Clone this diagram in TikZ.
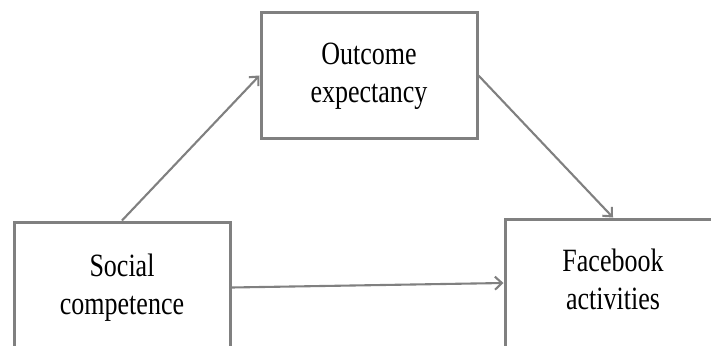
\documentclass[tikz,border=0pt]{standalone}
\usepackage{fontspec}
\setmainfont{Liberation Serif}
\usetikzlibrary{arrows.meta}
\definecolor{linegray}{HTML}{808080}
\newcommand{\tallt}[1]{\raisebox{-2.5pt}{\scalebox{1}[1.25]{\fontsize{26}{30.5}\selectfont\begin{tabular}{@{}c@{}}#1\end{tabular}}}}
\tikzset{
  box/.style={draw=linegray, line width=3pt, fill=white, align=center, inner sep=0pt},
  conn/.style={draw=linegray, line width=2.1pt, -{Straight Barb[length=7pt,width=13pt,line width=2.1pt]}}
}
\begin{document}
\begin{tikzpicture}[x=1pt,y=-1pt]
\useasboundingbox (0,0) rectangle (711,345);
\clip (0,0) rectangle (711,345);
\fill[white] (0,0) rectangle (711,345);
\node[box, minimum width=216pt, minimum height=125pt] (out) at (369,75.5) {\tallt{Outcome\\expectancy}};
\node[box, minimum width=216pt, minimum height=131pt] (soc) at (122,287.5) {\tallt{Social\\competence}};
\node[box, minimum width=216pt, minimum height=128pt] (fb) at (613,283) {\tallt{Facebook\\activities}};
\draw[conn] (soc.north) -- (out.west);
\draw[conn] (out.east) -- (fb.north);
\draw[conn] (soc.east) -- (fb.west);
\end{tikzpicture}
\end{document}
